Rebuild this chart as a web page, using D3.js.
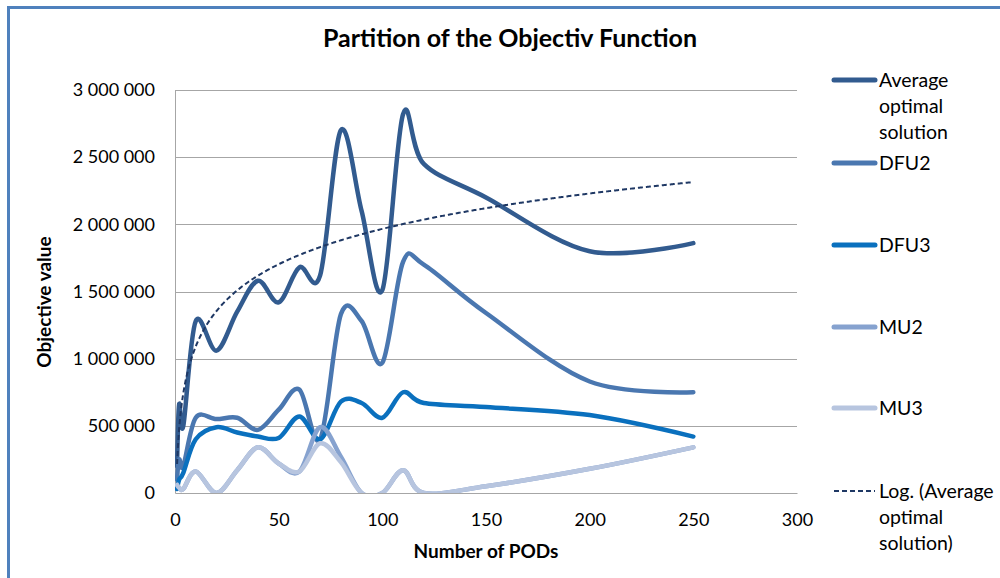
<!DOCTYPE html>
<html>
<head>
<meta charset="utf-8">
<script src="https://cdn.jsdelivr.net/npm/d3@7"></script>
<style>
  body { margin: 0; background: #fff; }
  svg { font-family: Lato, "Open Sans", sans-serif; }
</style>
</head>
<body>
<svg id="chart" width="1000" height="578"></svg>
<script>
// number of PODs
var pods  = [1, 2, 4, 10, 20, 30, 40, 50, 60, 70, 80, 90, 100, 110, 120, 150, 200, 250];
// objective values
var avgOpt = [200000, 660000, 500000, 1280000, 1060000, 1350000, 1580000, 1420000, 1680000, 1620000, 2700000, 2100000, 1510000, 2820000, 2450000, 2200000, 1800000, 1860000];
var dfu2   = [100000, 250000, 200000, 560000, 550000, 560000, 470000, 620000, 770000, 400000, 1330000, 1280000, 970000, 1720000, 1700000, 1340000, 830000, 750000];
var dfu3   = [30000, 100000, 150000, 400000, 490000, 450000, 420000, 410000, 570000, 400000, 680000, 670000, 560000, 750000, 670000, 640000, 580000, 420000];
var mu2    = [60000, 40000, 30000, 160000, 0, 170000, 340000, 220000, 160000, 490000, 270000, 0, 0, 170000, 0, 50000, 180000, 340000];
var mu3    = [60000, 40000, 30000, 160000, 0, 170000, 340000, 220000, 160000, 370000, 230000, 0, 0, 170000, 0, 50000, 180000, 340000];

var seriesNames  = ["Average optimal solution", "DFU2", "DFU3", "MU2", "MU3"];
var seriesValues = [avgOpt, dfu2, dfu3, mu2, mu3];
var seriesColors = ["#325b8f", "#4a77b0", "#0a70be", "#86a2cf", "#b7c5df"];

var xTicks = [0, 50, 100, 150, 200, 250, 300];
var yTicks = [0, 500000, 1000000, 1500000, 2000000, 2500000, 3000000];

var svg = d3.select("#chart");
var margin = { top: 90, left: 175, right: 203, bottom: 85 };
var width = 1000 - margin.left - margin.right;
var height = 578 - margin.top - margin.bottom;

// outer frame
svg.append("rect")
  .attr("x", 8.5).attr("y", 7.5)
  .attr("width", 1100).attr("height", 700)
  .attr("fill", "none")
  .attr("stroke", "#4f81bd")
  .attr("stroke-width", 3);

var x = d3.scaleLinear().domain([0, 300]).range([margin.left, margin.left + width]);
var y = d3.scaleLinear().domain([0, 3000000]).range([margin.top + height, margin.top]);

var loc = d3.formatLocale({ decimal: ",", thousands: " ", grouping: [3], currency: ["", ""] });
var fmt = loc.format(",d");

// gridlines
svg.append("g")
  .selectAll("line")
  .data(yTicks.slice(1))
  .enter().append("line")
  .attr("x1", x(0)).attr("x2", x(300))
  .attr("y1", d => Math.round(y(d)) + 0.5).attr("y2", d => Math.round(y(d)) + 0.5)
  .attr("stroke", "#a6a6a6").attr("stroke-width", 1);

// y axis
var yAxis = svg.append("g")
  .attr("transform", `translate(${x(0)},0)`)
  .call(d3.axisLeft(y).tickValues(yTicks).tickFormat(fmt).tickSize(0).tickPadding(20));
yAxis.select(".domain").attr("stroke", "#a6a6a6");
yAxis.selectAll("text").attr("font-size", 18).attr("fill", "#000").attr("font-family", "Lato");

// x axis
var xAxis = svg.append("g")
  .attr("transform", `translate(0,${y(0)})`)
  .call(d3.axisBottom(x).tickValues(xTicks).tickSize(0).tickPadding(20));
xAxis.select(".domain").attr("stroke", "#a6a6a6");
xAxis.selectAll("text").attr("font-size", 18).attr("fill", "#000").attr("font-family", "Lato");

svg.append("clipPath").attr("id", "plot")
  .append("rect")
  .attr("x", x(0)).attr("y", y(3000000) - 10)
  .attr("width", width).attr("height", height + 10);

var line = d3.line()
  .x((d, i) => x(pods[i]))
  .y(d => y(d))
  .curve(d3.curveCardinal.tension(0));

var lines = svg.append("g").attr("clip-path", "url(#plot)");

seriesValues.forEach(function(vals, k) {
  lines.append("path")
    .datum(vals)
    .attr("d", line)
    .attr("fill", "none")
    .attr("stroke", seriesColors[k])
    .attr("stroke-width", 4.5)
    .attr("stroke-linejoin", "round")
    .attr("stroke-linecap", "round");
});

// logarithmic trendline of the average optimal solution (least squares on ln x)
var lx = pods.map(p => Math.log(p));
var mx = d3.mean(lx), my = d3.mean(avgOpt);
var slope = d3.sum(lx, (v, i) => (v - mx) * (avgOpt[i] - my)) / d3.sum(lx, v => (v - mx) * (v - mx));
var icpt = my - slope * mx;
var trendX = d3.range(d3.min(pods), d3.max(pods) + 0.01, 0.5);

lines.append("path")
  .datum(trendX)
  .attr("d", d3.line().x(d => x(d)).y(d => y(icpt + slope * Math.log(d))))
  .attr("fill", "none")
  .attr("stroke", "#1f3864")
  .attr("stroke-width", 2)
  .attr("stroke-dasharray", "5,3");

// title
svg.append("text")
  .attr("x", 510).attr("y", 47)
  .attr("text-anchor", "middle")
  .attr("font-size", 25).attr("font-weight", "bold")
  .text("Partition of the Objectiv Function");

svg.append("text")
  .attr("x", x(150)).attr("y", 558)
  .attr("text-anchor", "middle")
  .attr("font-size", 19).attr("font-weight", "bold")
  .text("Number of PODs");

svg.append("text")
  .attr("transform", "translate(51,302) rotate(-90)")
  .attr("text-anchor", "middle")
  .attr("font-size", 19).attr("font-weight", "bold")
  .text("Objective value");

// legend
var legendItems = [
  { lines: ["Average", "optimal", "solution"], color: seriesColors[0], y: 80 },
  { lines: ["DFU2"], color: seriesColors[1], y: 163 },
  { lines: ["DFU3"], color: seriesColors[2], y: 245 },
  { lines: ["MU2"], color: seriesColors[3], y: 327 },
  { lines: ["MU3"], color: seriesColors[4], y: 408 },
  { lines: ["Log. (Average", "optimal", "solution)"], color: "#1f3864", y: 491, dash: true }
];

var lg = svg.append("g").selectAll("g")
  .data(legendItems)
  .enter().append("g")
  .attr("transform", d => `translate(0,${d.y})`);

lg.append("line")
  .attr("x1", 834).attr("x2", 875)
  .attr("stroke", d => d.color)
  .attr("stroke-width", d => d.dash ? 2 : 5)
  .attr("stroke-linecap", d => d.dash ? "butt" : "round")
  .attr("stroke-dasharray", d => d.dash ? "5,3" : null);

lg.append("text")
  .attr("x", 879)
  .attr("font-size", 19.5)
  .selectAll("tspan")
  .data(d => d.lines)
  .enter().append("tspan")
  .attr("x", 879)
  .attr("y", (d, i) => i * 26 + 7)
  .text(d => d);
</script>
</body>
</html>
